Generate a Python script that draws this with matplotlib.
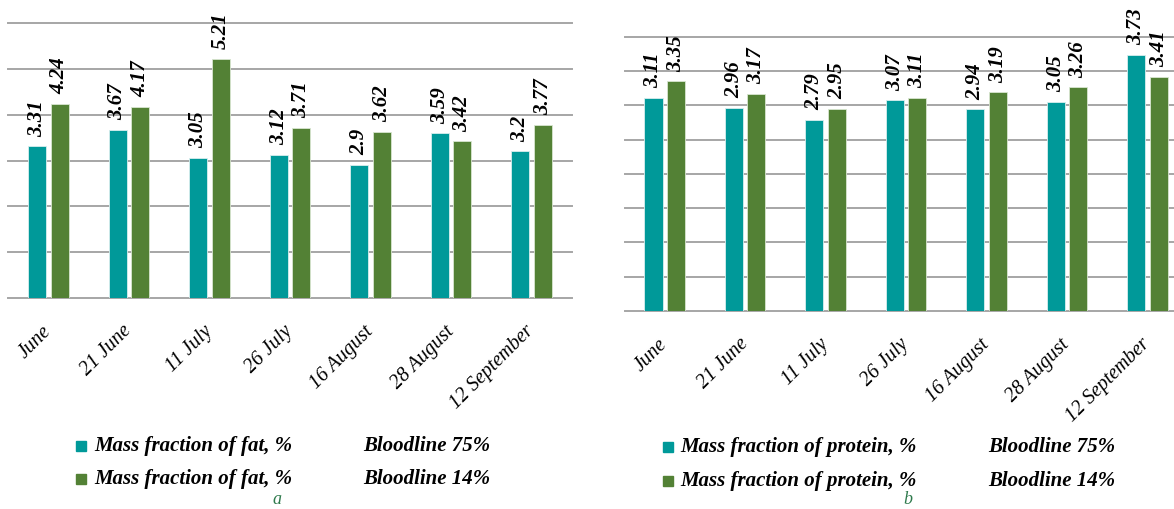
import numpy as np
import matplotlib.pyplot as plt
from matplotlib.patches import Rectangle

categories = ["June", "21 June", "11 July", "26 July", "16 August", "28 August", "12 September"]
fat_75 = [3.31, 3.67, 3.05, 3.12, 2.9, 3.59, 3.2]
fat_14 = [4.24, 4.17, 5.21, 3.71, 3.62, 3.42, 3.77]
protein_75 = [3.11, 2.96, 2.79, 3.07, 2.94, 3.05, 3.73]
protein_14 = [3.35, 3.17, 2.95, 3.11, 3.19, 3.26, 3.41]

fat_legend = ["Mass fraction of fat, %", "Mass fraction of fat, %"]
protein_legend = ["Mass fraction of protein, %", "Mass fraction of protein, %"]
bloodlines = ["Bloodline 75%", "Bloodline 14%"]
panel_letters = ["a", "b"]

TEAL = "#009999"
GREEN = "#538135"
GRID = "#a6a6a6"
SERIF = "Liberation Serif"

W, H = 1174, 509
fig = plt.figure(figsize=(W / 100, H / 100), dpi=100)


def px(x0, y0, x1, y1):
    # pixel box (top-left origin) -> figure fraction rect
    return [x0 / W, 1 - y1 / H, (x1 - x0) / W, (y1 - y0) / H]


def draw_panel(ax, s75, s14, ymax, step, xmax):
    x = np.arange(len(categories))
    w = 0.225
    b1 = ax.bar(x - 0.14, s75, w, color=TEAL, edgecolor="#d8eeee", linewidth=0.6, zorder=3)
    b2 = ax.bar(x + 0.14, s14, w, color=GREEN, edgecolor="#d8e6d0", linewidth=0.6, zorder=3)
    for bars, vals in ((b1, s75), (b2, s14)):
        for r, v in zip(bars, vals):
            ax.annotate(f"{v:g}", (r.get_x() + r.get_width() / 2, v),
                        xytext=(0, 7), textcoords="offset points",
                        rotation=90, ha="center", va="bottom",
                        fontsize=15, fontweight="bold", fontstyle="italic",
                        family=SERIF, annotation_clip=False, zorder=4)
    ax.set_ylim(0, ymax)
    ax.set_xlim(-0.5, xmax)
    ax.set_yticks(np.arange(0, ymax + step / 2, step))
    ax.set_yticklabels([])
    ax.tick_params(axis="y", length=0)
    ax.yaxis.grid(True, color=GRID, linewidth=1.4)
    for gl in ax.get_ygridlines():
        gl.set_clip_on(False)
    ax.set_axisbelow(True)
    for sp in ax.spines.values():
        sp.set_visible(False)
    ax.set_xticks(x)
    ax.set_xticklabels(categories, rotation=45, ha="right", va="center",
                       rotation_mode="anchor", fontsize=14.5,
                       fontstyle="italic", family=SERIF)
    ax.tick_params(axis="x", length=0, pad=22)


ax1 = fig.add_axes(px(8, 23, 572, 298))
draw_panel(ax1, fat_75, fat_14, 6, 1, 6.5)

ax2 = fig.add_axes(px(624.5, 36.7, 1174, 311))
draw_panel(ax2, protein_75, protein_14, 4, 0.5, 6.33)

legend_font = dict(fontsize=15, fontweight="bold", fontstyle="italic", family=SERIF, va="center")


def draw_legend(labels, sq_x, text_x, bl_x, rows):
    for lab, bl, col, y in zip(labels, bloodlines, [TEAL, GREEN], rows):
        fig.add_artist(Rectangle(((sq_x - 5) / W, 1 - (y + 5) / H), 10 / W, 10 / H,
                                 transform=fig.transFigure, color=col))
        fig.text(text_x / W, 1 - y / H, lab, **legend_font)
        fig.text(bl_x / W, 1 - y / H, bl, **legend_font)


draw_legend(fat_legend, 81, 94, 363, [446, 479])
draw_legend(protein_legend, 668, 680, 988, [447, 481])

fig.text(277 / W, 1 - 499 / H, panel_letters[0], color="#2e7a4c", fontsize=13,
         fontstyle="italic", family=SERIF, ha="center", va="center")
fig.text(908 / W, 1 - 499 / H, panel_letters[1], color="#2e7a4c", fontsize=13,
         fontstyle="italic", family=SERIF, ha="center", va="center")

fig.savefig("out.png", dpi=100)
